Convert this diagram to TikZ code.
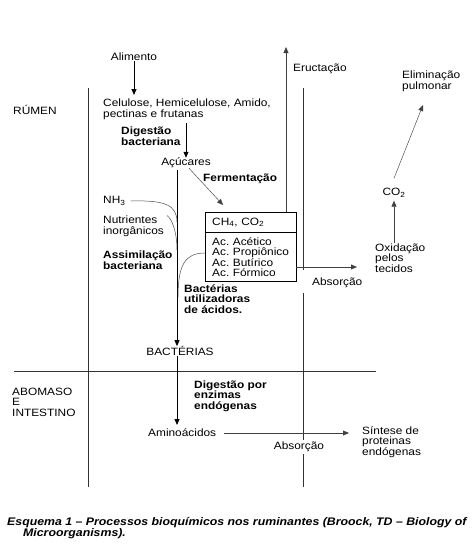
\documentclass[tikz,border=0pt]{standalone}
\usepackage{fontspec}
\setmainfont{Liberation Sans}[FakeStretch=1.12]
\usetikzlibrary{arrows.meta,positioning,calc}
\newcommand{\txt}{\fontsize{10.6}{10.6}\selectfont}
\newcommand{\txtb}{\fontsize{10.6}{10.6}\selectfont\bfseries}

\begin{document}
\begin{tikzpicture}[x=1pt,y=-1pt,
  lbl/.style={font=\txt, inner sep=0pt, align=left, anchor=west},
  bld/.style={font=\txtb, inner sep=0pt, align=left, anchor=west},
  cellbox/.style={draw, thin, anchor=north west, minimum width=91pt, inner xsep=7pt,
                  text width=77pt, align=left, font=\txt},
  arr/.style={-{Triangle[length=6pt,width=5pt]}, line width=0.8pt},
  tarr/.style={-{Triangle[length=6pt,width=5pt]}, line width=0.45pt, black!75},
  sep/.style={line width=0.7pt, black!80},
  curv/.style={line width=0.5pt, black!70}
]
  \useasboundingbox (0,0) rectangle (475,560);

  % regions
  \node[lbl] (rumen)   at (13,110)  {RÚMEN};
  \node[lbl] (abomaso) at (12,402)  {ABOMASO\\E\\INTESTINO};
  \draw[sep] (88,88) -- (88,487);
  \draw[sep] (14,371) -- (376,371);
  \draw[sep] (303,88) -- (303,270);
  \draw[sep] (303,293) -- (303,487);

  % rumen
  \node[lbl, anchor=center] (alimento) at (134,57) {Alimento};
  \node[lbl] (celulose) at (103,109) {Celulose, Hemicelulose, Amido,\\pectinas e frutanas};
  \node[bld] (digbact)  at (121,136) {Digestão\\bacteriana};
  \node[lbl, anchor=center] (acucares) at (186,163) {Açúcares};
  \node[bld] (ferm)     at (203,179) {Fermentação};

  \node[cellbox, minimum height=20pt] (gases) at (205,212) {CH\textsubscript{4}, CO\textsubscript{2}};
  \node[cellbox, minimum height=49pt] (acidos) at (gases.south west)
    {Ac.\ Acético\\Ac.\ Propiônico\\Ac.\ Butírico\\Ac.\ Fórmico};

  \node[lbl] (nh3)    at (103,201) {NH\textsubscript{3}};
  \node[lbl] (nutri)  at (103,226) {Nutrientes\\inorgânicos};
  \node[bld] (assim)  at (103,260) {Assimilação\\bacteriana};
  \node[bld] (bactac) at (184,299) {Bactérias\\utilizadoras\\de ácidos.};
  \node[lbl, anchor=center] (bacterias) at (180,351) {BACTÉRIAS};

  % right side
  \node[lbl] (eruct)   at (293,69)  {Eructação};
  \node[lbl] (elim)    at (402,81)  {Eliminação\\pulmonar};
  \node[lbl, anchor=center] (co2) at (394,193) {CO\textsubscript{2}};
  \node[lbl] (oxid)    at (375,258) {Oxidação\\pelos\\tecidos};
  \node[lbl] (absorc1) at (312,283) {Absorção};

  % abomaso
  \node[bld] (digenz)  at (194,396) {Digestão por\\enzimas\\endógenas};
  \node[lbl] (amino)   at (148,433) {Aminoácidos};
  \node[lbl] (sintese) at (362,442) {Síntese de\\proteinas\\endógenas};
  \node[lbl, anchor=center, fill=white, inner sep=2pt] (absorc2) at (299,447) {Absorção};

  \coordinate (vtop)    at (177,170);
  \coordinate (eructup) at (286,47);
  \coordinate (absend)  at (357,267);
  \coordinate (elimend) at (423,105);

  % arrows
  \draw[arr] (alimento.south) -- (alimento.south |- 0,95);
  \draw[arr] (acucares.north |- 0,123) -- (acucares.north);
  \draw[arr] (vtop) -- (vtop |- bacterias.north);
  \draw[tarr] ([xshift=3pt]acucares.south) -- ($(gases.north west)+(18,-7)$);
  \draw[tarr] (eructup |- gases.north) -- (eructup);
  \draw[tarr] (acidos.east |- absend) -- (absend);
  \draw[tarr] (oxid.north -| co2) -- ([yshift=-3pt]co2.south);
  \draw[tarr] ([yshift=10pt]co2.north) -- (elimend);
  \draw[arr] (bacterias.south -| vtop) -- (vtop |- 0,425);
  \draw[tarr] ([xshift=8pt]amino.east) -- (349,433);

  % curves into the bacterial line
  \draw[curv] ([xshift=5pt]nh3.east) .. controls (165,200) and (177,205) .. (177,222);
  \draw[curv] ([xshift=3pt]nutri.north east) .. controls (172,219) and (177,232) .. (177,250);
  \draw[curv] (acidos.west |- 0,253) .. controls (185,253) and (178,265) .. (178,297);

  % caption
  \node[font=\fontsize{11}{10.6}\selectfont\bfseries\itshape, inner sep=0pt, align=left, anchor=west] (caption) at (7,528)
    {Esquema 1 – Processos bioquímicos nos ruminantes (Broock, TD – Biology of\\\hspace*{16pt}Microorganisms).};
\end{tikzpicture}
\end{document}
